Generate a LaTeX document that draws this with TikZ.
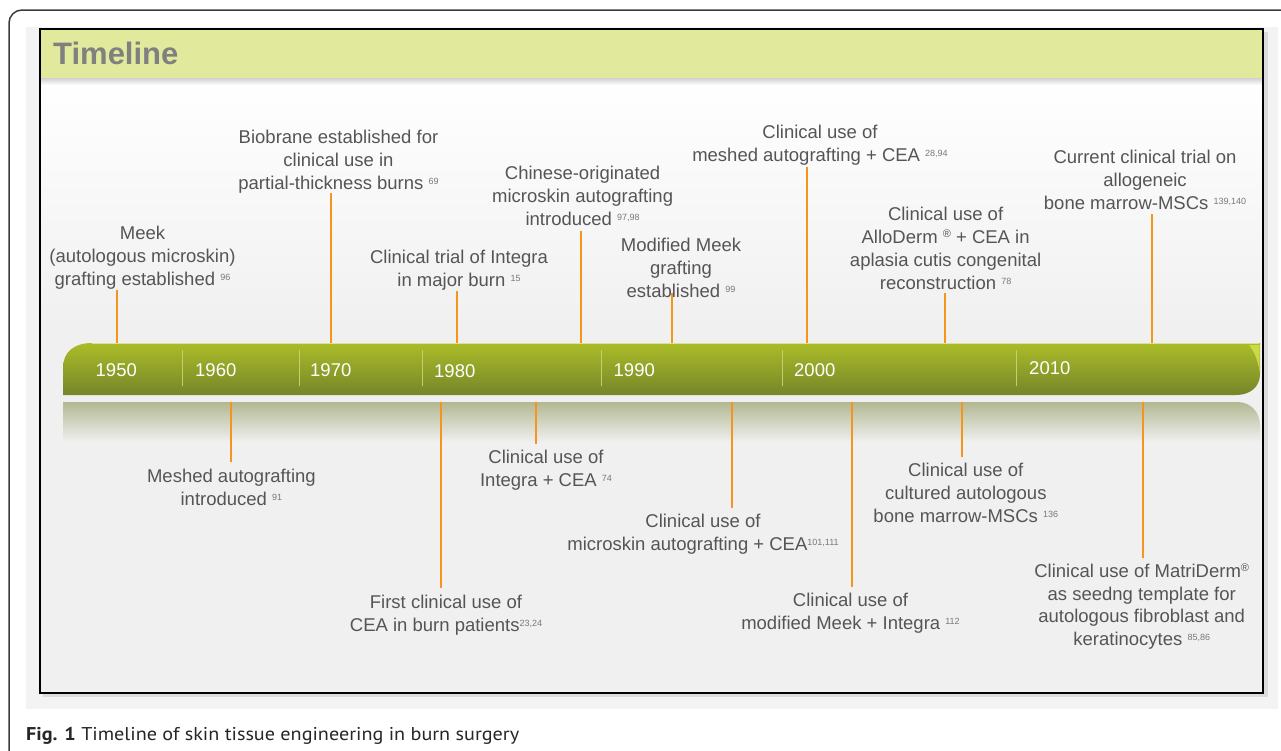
\documentclass[tikz,border=0pt]{standalone}
\usepackage{fontspec}
\setmainfont{Liberation Sans}
\newfontfamily\capfont{PT Sans}
\usetikzlibrary{calc}
\definecolor{hdr}{RGB}{225,233,157}
\definecolor{txt}{RGB}{85,85,85}
\definecolor{refc}{RGB}{120,120,120}
\definecolor{org}{RGB}{247,148,29}
\definecolor{bgc}{RGB}{240,240,240}
\definecolor{panel}{RGB}{243,243,243}
\definecolor{framec}{RGB}{60,60,60}
\definecolor{ttl}{RGB}{128,128,128}
\definecolor{barT}{RGB}{171,188,40}
\definecolor{barM}{RGB}{160,178,36}
\definecolor{barB}{RGB}{118,134,42}
\definecolor{refl}{RGB}{178,184,146}
\definecolor{divc}{RGB}{196,208,110}
\definecolor{hl}{RGB}{214,226,80}
\newcommand\lblfont{\fontsize{18.5}{22.8}\selectfont}
\newcommand\rfn[1]{{\fontsize{9}{9}\selectfont\color{refc}\raisebox{5pt}{#1}}}
\newcommand\regm{{\fontsize{11}{11}\selectfont\raisebox{6pt}{®}}}
\newcommand\tlab[1]{\begin{tabular}[b]{@{}c@{}}#1\end{tabular}}
\newcommand\blab[1]{\begin{tabular}[t]{@{}c@{}}#1\end{tabular}}
\tikzset{
  lbl/.style={anchor=base, inner sep=0pt, text=txt, font=\lblfont},
  yr/.style={anchor=base west, inner sep=0pt, text=white, font=\lblfont},
  conn/.style={draw=org, line width=2pt},
  divider/.style={draw=divc, line width=0.7pt}
}
\begin{document}
\begin{tikzpicture}[x=1pt,y=-1pt]
\useasboundingbox (0,0) rectangle (1281,750);
\fill[white] (0,0) rectangle (1281,750);
% outer frame
\draw[framec, line width=1.5pt, rounded corners=13pt] (1300,10) -- (9,10) -- (9,780);
% panel
\fill[panel] (26,27) rectangle (1278,709);
% box shadow
\fill[black!14] (43,32) rectangle (1268,697);
% box interior
\fill[bgc] (40,29) rectangle (1263,693);
\shade[top color=white, bottom color=bgc] (40,78) rectangle (1263,330);
% header
\shade[top color=black!30, bottom color=white, opacity=0.6] (40,78) rectangle (1264,85);
\fill[hdr] (40,29) rectangle (1264,78);
\draw[black, line width=1.3pt] (40,29) rectangle (1263,693);
\node[anchor=base west, inner sep=0pt, text=ttl, font=\fontsize{31}{31}\selectfont\bfseries] (title) at (53,64.3) {Timeline};

% timeline bar
\shade[top color=barT, middle color=barM, bottom color=barB]
  (63,395) -- (63,368) .. controls (63,352) and (74,343) .. (92,343) -- (1260,343)
  -- (1260,374) .. controls (1260,387) and (1250,395) .. (1236,395) -- cycle;
\draw[white!55!barT, line width=1pt] (92,343.5) -- (1259,343.5);
\fill[hl, opacity=0.8] (1249,345) -- (1259.5,345) -- (1259.5,372) .. controls (1258,360) and (1254,351) .. (1249,345) -- cycle;
% reflection
\shade[top color=refl, bottom color=bgc]
  (63,402) -- (1237,402) .. controls (1250,402) and (1260,411) .. (1260,426) -- (1260,442) -- (63,442) -- cycle;
\coordinate (barTop) at (0,343);
\coordinate (reflTop) at (0,402);

% dividers
\foreach \x in {182.5,299.5,422,601,782.5,1016.5} \draw[divider] (\x,350) -- (\x,386);

% years
\node[yr] (y1950) at (95.5,376) {1950};
\node[yr] (y1960) at (195,376) {1960};
\node[yr] (y1970) at (310,376) {1970};
\node[yr] (y1980) at (434,377.5) {1980};
\node[yr] (y1990) at (613.5,376.5) {1990};
\node[yr] (y2000) at (794,376) {2000};
\node[yr] (y2010) at (1029,374.5) {2010};

% top labels
\node[lbl] (t1) at (142.5,285) {\tlab{Meek\\(autologous microskin)\\grafting established \rfn{96}}};
\node[lbl] (t2) at (338.5,189) {\tlab{Biobrane established for\\clinical use in\\partial-thickness burns \rfn{69}}};
\node[lbl] (t3) at (459,286.7) {\tlab{Clinical trial of Integra\\in major burn \rfn{15}}};
\node[lbl] (t4) at (582.6,225) {\tlab{Chinese-originated\\microskin autografting\\introduced \rfn{97,98}}};
\node[lbl] (t5) at (681,297) {\tlab{Modified Meek\\grafting\\established \rfn{99}}};
\node[lbl] (t6) at (820,161.7) {\tlab{Clinical use of\\meshed autografting + CEA \rfn{28,94}}};
\node[lbl] (t7) at (945.6,289) {\tlab{Clinical use of\\AlloDerm \regm{} + CEA in\\aplasia cutis congenital\\reconstruction \rfn{78}}};
\node[lbl] (t8) at (1145,209) {\tlab{Current clinical trial on\\allogeneic\\bone marrow-MSCs \rfn{139,140}}};

% bottom labels
\node[lbl] (b1) at (231.4,482.7) {\blab{Meshed autografting\\introduced \rfn{91}}};
\node[lbl] (b2) at (446,608.3) {\blab{First clinical use of\\CEA in burn patients\rfn{23,24}}};
\node[lbl] (b3) at (546,463.3) {\blab{Clinical use of\\Integra + CEA \rfn{74}}};
\node[lbl] (b4) at (703,527.3) {\blab{Clinical use of\\microskin autografting + CEA\rfn{101,111}}};
\node[lbl] (b5) at (850.5,606.7) {\blab{Clinical use of\\modified Meek + Integra \rfn{112}}};
\node[lbl] (b6) at (965.8,476.7) {\blab{Clinical use of\\cultured autologous\\bone marrow-MSCs \rfn{136}}};
\node[lbl] (b7) at (1141.7,577.3) {\blab{Clinical use of MatriDerm\regm\\as seedng template for\\autologous fibroblast and\\keratinocytes \rfn{85,86}}};

% connector ends
\coordinate (ct1) at (117,290);
\coordinate (ct2) at (331,193);
\coordinate (ct3) at (457,291);
\coordinate (ct4) at (581,230.7);
\coordinate (ct5) at (672,293);
\coordinate (ct6) at (807,166.7);
\coordinate (ct7) at (945,293);
\coordinate (ct8) at (1152,214);
\coordinate (cb1) at (231,461.7);
\coordinate (cb2) at (441,588);
\coordinate (cb3) at (536,444);
\coordinate (cb4) at (732,507.7);
\coordinate (cb5) at (852,587.3);
\coordinate (cb6) at (962,457.3);
\coordinate (cb7) at (1143,558);
\foreach \c in {ct1,ct2,ct3,ct4,ct5,ct6,ct7,ct8} \draw[conn] (\c) -- (\c |- barTop);
\foreach \c in {cb1,cb2,cb3,cb4,cb5,cb6,cb7} \draw[conn] (\c |- reflTop) -- (\c);

% caption
\node[anchor=base west, inner sep=0pt, text=black!85] (cap) at (26,740)
  {\scalebox{1.09}[1]{\capfont\fontsize{18.5}{20}\selectfont\textbf{Fig. 1} Timeline of skin tissue engineering in burn surgery}};
\end{tikzpicture}
\end{document}
